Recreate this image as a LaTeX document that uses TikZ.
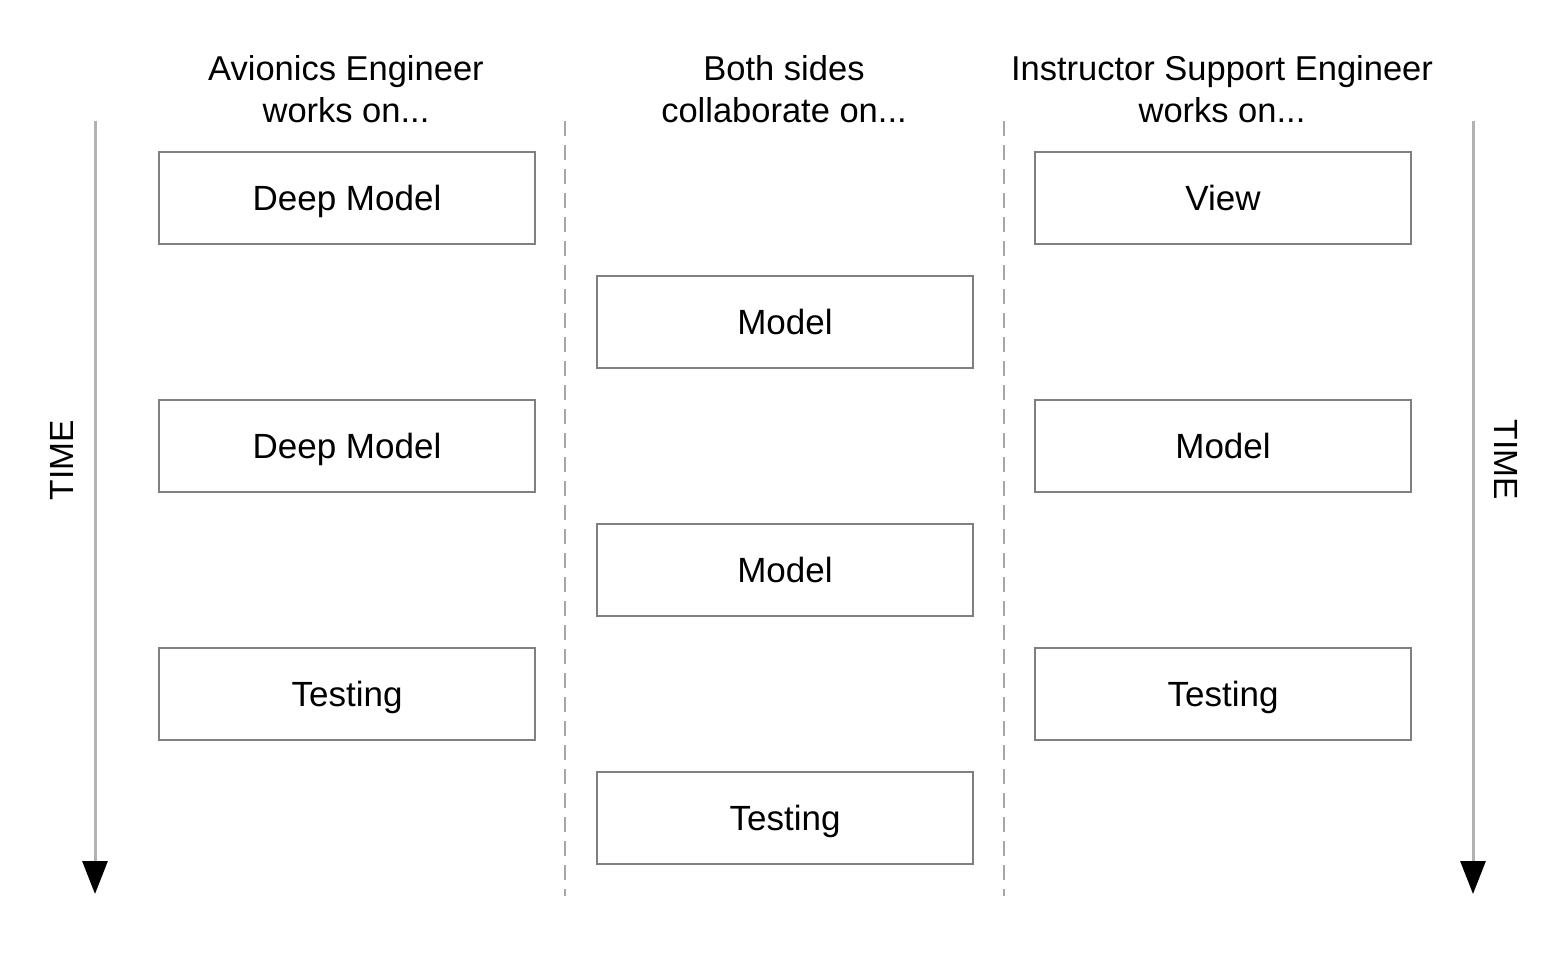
\documentclass[tikz,border=0pt]{standalone}
\usepackage{fontspec}
\setmainfont{Liberation Sans}
\usetikzlibrary{arrows.meta}
\begin{document}
\begin{tikzpicture}[x=1pt,y=-1pt,
  box/.style={draw=black!50,line width=1.5pt,minimum width=376pt,minimum height=92pt,inner sep=0pt,text height=25pt,text depth=0pt,font=\fontsize{35}{40}\selectfont},
  head/.style={align=center,font=\fontsize{34.5}{42}\selectfont},
  timeline/.style={draw=black!30,line width=3pt,-{Triangle[length=33pt,width=25pt,black]}},
  sep/.style={draw=black!35,line width=1.8pt,dash pattern=on 15pt off 9pt},
  timelabel/.style={font=\fontsize{33.5}{40}\selectfont}]
\useasboundingbox (0,0) rectangle (1564,968);
\node[head] (h1) at (346,89) {Avionics Engineer\\works on...};
\node[head] (h2) at (784,89) {Both sides\\collaborate on...};
\node[head] (h3) at (1222,89) {Instructor Support Engineer\\works on...};
\node[box] (l1) at (347,198) {Deep Model};
\node[box] (l2) at (347,446) {Deep Model};
\node[box] (l3) at (347,694) {Testing};
\node[box] (m1) at (785,322) {Model};
\node[box] (m2) at (785,570) {Model};
\node[box] (m3) at (785,818) {Testing};
\node[box] (r1) at (1223,198) {View};
\node[box] (r2) at (1223,446) {Model};
\node[box] (r3) at (1223,694) {Testing};
\coordinate (ta) at (95,121);
\coordinate (tb) at (95,894);
\coordinate (ua) at (1473,121);
\coordinate (ub) at (1473,894);
\draw[timeline] (ta) -- (tb);
\draw[timeline] (ua) -- (ub);
\coordinate (s1a) at (565,121);
\coordinate (s1b) at (565,896);
\coordinate (s2a) at (1004,121);
\coordinate (s2b) at (1004,896);
\draw[sep] (s1a) -- (s1b);
\draw[sep] (s2a) -- (s2b);
\node[timelabel,rotate=90] (tl) at (62,460) {TIME};
\node[timelabel,rotate=-90] (tr) at (1506,460) {TIME};
\end{tikzpicture}
\end{document}
